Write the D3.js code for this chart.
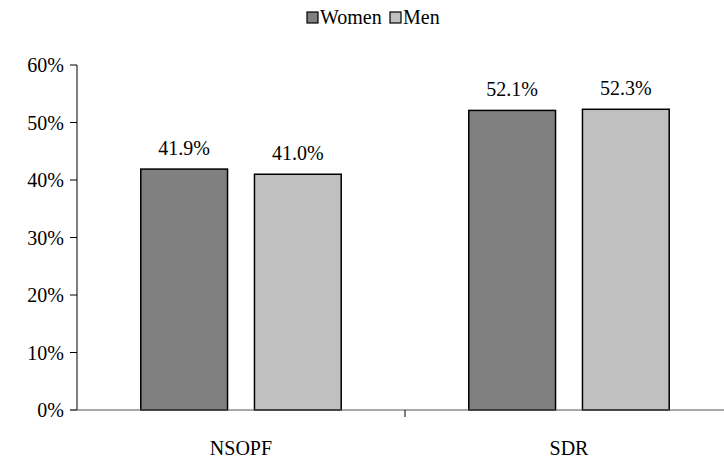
<!DOCTYPE html>
<html>
<head>
<meta charset="utf-8">
<script src="https://cdn.jsdelivr.net/npm/d3@7"></script>
<style>
  body { margin: 0; background: #fff; }
</style>
</head>
<body>
<svg width="724" height="463" font-family="Liberation Serif"></svg>
<script>
const categories = ['NSOPF', 'SDR'];
const seriesNames = ['Women', 'Men'];
const women = [41.9, 52.1];
const men = [41.0, 52.3];
const yTicks = [0, 10, 20, 30, 40, 50, 60];
const colors = ['#808080', '#c0c0c0'];
const FONT = "'Liberation Serif', 'Times New Roman', Tinos, FreeSerif, serif";

function addText(sel) {
    return sel.append('text').style('font-family', FONT).style('font-size', '20px').attr('fill', '#000');
}

function Start(){
    const svg = d3.select('svg');
    svg.selectAll('*').remove();
    const left = 77, right = 733, top = 65, bottom = 410;

    const x = d3.scaleBand()
        .domain(categories)
        .range([left, right]);
    const xs = d3.scaleBand()
        .domain(seriesNames)
        .range([0, x.bandwidth()])
        .paddingInner(0.237)
        .paddingOuter(0.561);
    const y = d3.scaleLinear()
        .domain([0, 60])
        .range([bottom, top]);

    // y axis
    const yAxis = svg.append('g');
    yAxis.append('line')
        .attr('x1', left).attr('x2', left)
        .attr('y1', y(0)).attr('y2', y(60))
        .attr('stroke', '#000');
    const ticks = yAxis.selectAll('.tick').data(yTicks).enter().append('g')
        .attr('transform', d => `translate(0,${y(d)})`);
    ticks.append('line')
        .attr('x1', left - 7).attr('x2', left)
        .attr('stroke', '#000');
    ticks.each(function(d) {
        addText(d3.select(this))
            .attr('x', left - 13)
            .attr('y', 7)
            .attr('text-anchor', 'end')
            .text(d + '%');
    });

    // bars
    const data = categories.map((c, i) => ({cat: c, vals: [women[i], men[i]]}));
    const groups = svg.selectAll('.grp').data(data).enter().append('g')
        .attr('transform', d => `translate(${x(d.cat)},0)`);
    groups.selectAll('rect')
        .data(d => d.vals.map((v, j) => ({name: seriesNames[j], v, j})))
        .enter().append('rect')
        .attr('x', d => xs(d.name))
        .attr('y', d => y(d.v))
        .attr('width', xs.bandwidth())
        .attr('height', d => y(0) - y(d.v))
        .attr('fill', d => colors[d.j])
        .attr('stroke', '#000')
        .attr('stroke-width', 1.5);
    groups.each(function(d) {
        const g = d3.select(this);
        d.vals.forEach((v, j) => {
            addText(g)
                .attr('x', xs(seriesNames[j]) + xs.bandwidth() / 2)
                .attr('y', y(v) - 14)
                .attr('text-anchor', 'middle')
                .text(v.toFixed(1) + '%');
        });
    });

    // x axis
    const xAxis = svg.append('g')
        .attr('transform', `translate(0,${bottom})`);
    xAxis.append('line')
        .attr('x1', left - 7).attr('x2', 724)
        .attr('stroke', '#555').attr('stroke-width', 1);
    xAxis.selectAll('.sep').data(categories.slice(1)).enter().append('line')
        .attr('x1', d => x(d)).attr('x2', d => x(d))
        .attr('y1', 0).attr('y2', 7)
        .attr('stroke', '#000');
    categories.forEach(c => {
        addText(xAxis)
            .attr('x', x(c) + x.bandwidth() / 2)
            .attr('y', 45)
            .attr('text-anchor', 'middle')
            .text(c);
    });

    // legend
    const legend = svg.append('g')
        .attr('transform', 'translate(307,11)');
    const items = [{name: 'Women', x: 0}, {name: 'Men', x: 83}];
    items.forEach((it, i) => {
        legend.append('rect')
            .attr('x', it.x).attr('y', 1)
            .attr('width', 11).attr('height', 11)
            .attr('fill', colors[i]).attr('stroke', '#000').attr('stroke-width', 1.2);
        addText(legend)
            .attr('x', it.x + 13).attr('y', 13)
            .text(it.name);
    });
}
Start();
if (document.fonts && document.fonts.load) {
    document.fonts.load('20px "Liberation Serif"').then(Start);
}
</script>
</body>
</html>
